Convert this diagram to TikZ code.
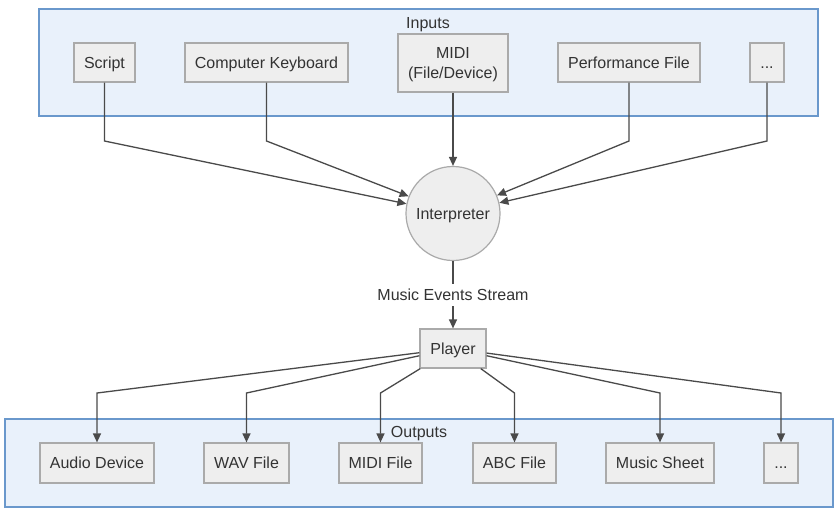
\documentclass[tikz,border=0pt]{standalone}
\usepackage{fontspec}
\setmainfont{Liberation Sans}
\usetikzlibrary{arrows.meta}
\definecolor{clfill}{HTML}{E9F1FB}
\definecolor{cldraw}{HTML}{6A98CC}
\definecolor{boxfill}{HTML}{EEEEEE}
\definecolor{boxdraw}{HTML}{AAAAAA}
\definecolor{txt}{HTML}{333333}
\definecolor{edge}{HTML}{4A4A4A}
\tikzset{
  cluster/.style={fill=clfill,draw=cldraw,line width=1.2pt},
  boxbase/.style={draw=boxdraw,fill=boxfill,line width=1.2pt,rectangle,inner sep=0pt,text=txt,align=center,font=\fontsize{16}{19}\selectfont},
  box/.style={boxbase,text height=14.5pt,text depth=3.4pt},
  roundnode/.style={draw=boxdraw,fill=boxfill,line width=1.2pt,circle,inner sep=0pt,minimum size=94pt,text=txt,font=\fontsize{16}{19}\selectfont,text height=14.5pt,text depth=3.4pt},
  ttl/.style={text=txt,inner sep=0pt,font=\fontsize{16}{19}\selectfont,text height=14.5pt,text depth=3.4pt},
  conn/.style={draw=edge,line width=1.3pt,-{Triangle[length=9pt,width=8pt]}},
}
\begin{document}
\begin{tikzpicture}[x=1pt,y=-1pt]
\useasboundingbox[fill=white] (0,0) rectangle (838,512);
% clusters
\draw[cluster] (39,9) rectangle (818,116);
\draw[cluster] (5,419) rectangle (833,507);
\node[ttl] (inlbl) at (428,23) {Inputs};
\node[ttl] (outlbl) at (419,432) {Outputs};
% inputs
\node[box,minimum width=61pt,minimum height=39pt] (script) at (104.5,62.5) {Script};
\node[box,minimum width=163pt,minimum height=39pt] (kbd) at (266.5,62.5) {Computer Keyboard};
\node[boxbase,minimum width=110pt,minimum height=58pt] (midi) at (453,63) {};
\node[text=txt,inner sep=0pt,align=center,font=\fontsize{16}{20}\selectfont] (miditxt) at (453,64.5) {MIDI\\(File/Device)};
\node[box,minimum width=142pt,minimum height=39pt] (perf) at (629,62.5) {Performance File};
\node[box,minimum width=34pt,minimum height=39pt] (idots) at (767,62.5) {...};
% interpreter
\node[roundnode] (interp) at (453,213.5) {Interpreter};
\node[box,minimum width=66pt,minimum height=39pt] (player) at (453,348.5) {Player};
\node[ttl,fill=white,inner sep=2pt] (mes) at (453,295) {Music Events Stream};
% outputs
\node[box,minimum width=114pt,minimum height=40pt] (audio) at (97,463) {Audio Device};
\node[box,minimum width=85pt,minimum height=40pt] (wav) at (246.5,463) {WAV File};
\node[box,minimum width=83pt,minimum height=40pt] (midif) at (380.5,463) {MIDI File};
\node[box,minimum width=83pt,minimum height=40pt] (abc) at (514.5,463) {ABC File};
\node[box,minimum width=108pt,minimum height=40pt] (sheet) at (660,463) {Music Sheet};
\node[box,minimum width=34pt,minimum height=40pt] (odots) at (781,463) {...};
% bend coordinates
\coordinate (s1) at (104.5,141);
\coordinate (s2) at (266.5,141);
\coordinate (s4) at (629,141);
\coordinate (s5) at (767,141);
\coordinate (o1) at (97,393);
\coordinate (o2) at (246.5,393);
\coordinate (o3) at (380.5,393);
\coordinate (o4) at (514.5,393);
\coordinate (o5) at (660,393);
\coordinate (o6) at (781,393);
% input edges
\draw[conn] (script.south) -- (s1) -- (interp);
\draw[conn] (kbd.south) -- (s2) -- (interp);
\draw[conn] (midi.south) -- (interp);
\draw[conn] (perf.south) -- (s4) -- (interp);
\draw[conn] (idots.south) -- (s5) -- (interp);
% stream
\draw[draw=edge,line width=1.3pt] (interp.south) -- (mes.north);
\draw[conn] (mes.south) -- (player.north);
% output edges
\draw[conn] (player) -- (o1) -- (audio.north);
\draw[conn] (player) -- (o2) -- (wav.north);
\draw[conn] (player) -- (o3) -- (midif.north);
\draw[conn] (player) -- (o4) -- (abc.north);
\draw[conn] (player) -- (o5) -- (sheet.north);
\draw[conn] (player) -- (o6) -- (odots.north);
\end{tikzpicture}
\end{document}
